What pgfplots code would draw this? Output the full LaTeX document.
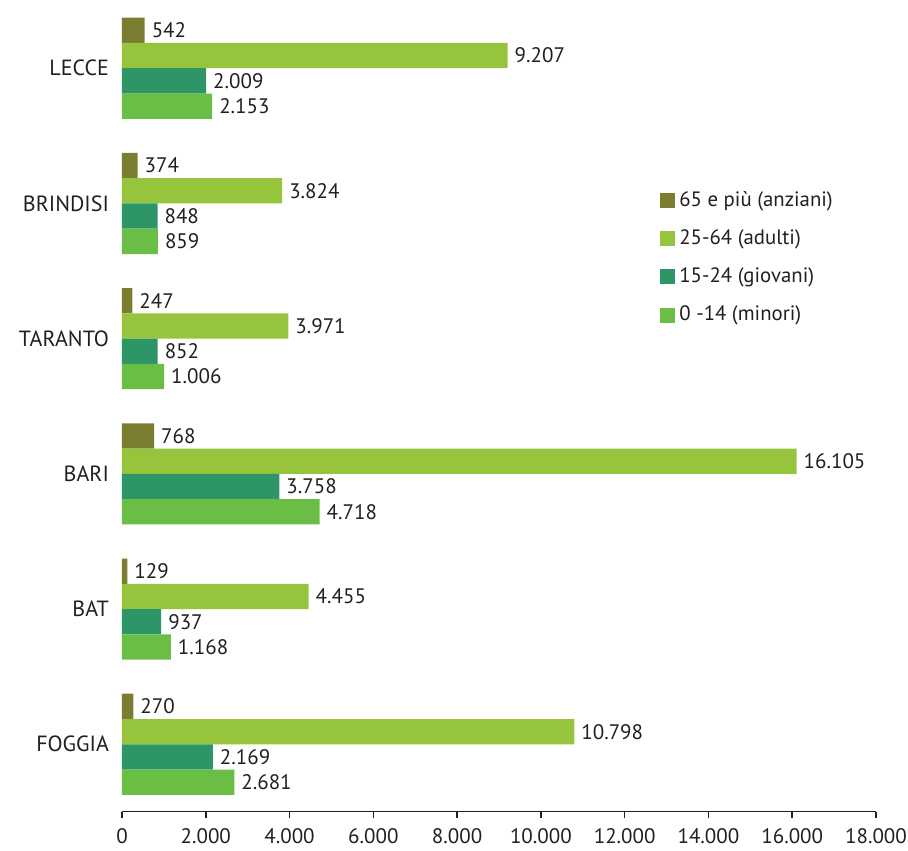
\documentclass[border=0pt]{standalone}
\usepackage{fontspec}
\setmainfont{PT Sans}
\usepackage{pgfplots}
\pgfplotsset{compat=1.18}
\pgfkeys{/pgf/number format/.cd, assume math mode=true, 1000 sep={.}, fixed, precision=0}
\definecolor{cA}{HTML}{7B7E31}
\definecolor{cB}{HTML}{96C43C}
\definecolor{cC}{HTML}{2E9567}
\definecolor{cD}{HTML}{6ABD45}
\definecolor{txt}{HTML}{231F20}
\begin{document}
\begin{tikzpicture}
\useasboundingbox (-61pt,-19.15pt) rectangle (393pt,405.85pt);
\begin{axis}[
  at={(0pt,0pt)}, anchor=south west,
  scale only axis, width=377pt, height=402.15pt,
  xmin=0, xmax=18000, ymin=-0.4985, ymax=5.45,
  xbar, bar width=0.187,
  axis x line*=bottom, axis y line*=left,
  y axis line style={draw=none},
  x axis line style={draw=txt, line width=0.75pt},
  xtick={0,2000,...,18000},
  scaled x ticks=false,
  xtick style={draw=txt, line width=0.75pt},
  tick align=outside, major tick length=3pt,
  ytick={0,1,2,3,4,5},
  yticklabels={FOGGIA,BAT,BARI,TARANTO,BRINDISI,LECCE},
  ytick style={draw=none},
  yticklabel style={font=\fontsize{11}{13}\selectfont, text=txt, xshift=0pt},
  xticklabel style={font=\fontsize{10.5}{12}\selectfont, text=txt, inner sep=0pt, yshift=-5.4pt},
  point meta=x,
  nodes near coords={\pgfmathprintnumber{\pgfplotspointmeta}},
  nodes near coords style={font=\fontsize{10.5}{12}\selectfont, text=txt, anchor=west},
  legend image code/.code={\fill[#1] (0pt,-3.75pt) rectangle (7.5pt,3.75pt);},
  legend cell align=left,
  legend style={at={(axis cs:12843,4.12)}, anchor=north west, draw=none, fill=none,
    font=\fontsize{10.4}{12}\selectfont, text=txt, row sep=6.15pt, inner sep=0pt,
    /tikz/every even column/.append style={column sep=10pt}},
]
\addplot[fill=cA, draw=none, bar shift=0.2805] coordinates {(542,5) (374,4) (247,3) (768,2) (129,1) (270,0)};
\addlegendentry{65 e più (anziani)}
\addplot[fill=cB, draw=none, bar shift=0.0935] coordinates {(9207,5) (3824,4) (3971,3) (16105,2) (4455,1) (10798,0)};
\addlegendentry{25-64 (adulti)}
\addplot[fill=cC, draw=none, bar shift=-0.0935] coordinates {(2009,5) (848,4) (852,3) (3758,2) (937,1) (2169,0)};
\addlegendentry{15-24 (giovani)}
\addplot[fill=cD, draw=none, bar shift=-0.2805] coordinates {(2153,5) (859,4) (1006,3) (4718,2) (1168,1) (2681,0)};
\addlegendentry{0 -14 (minori)}
\end{axis}
\end{tikzpicture}
\end{document}
